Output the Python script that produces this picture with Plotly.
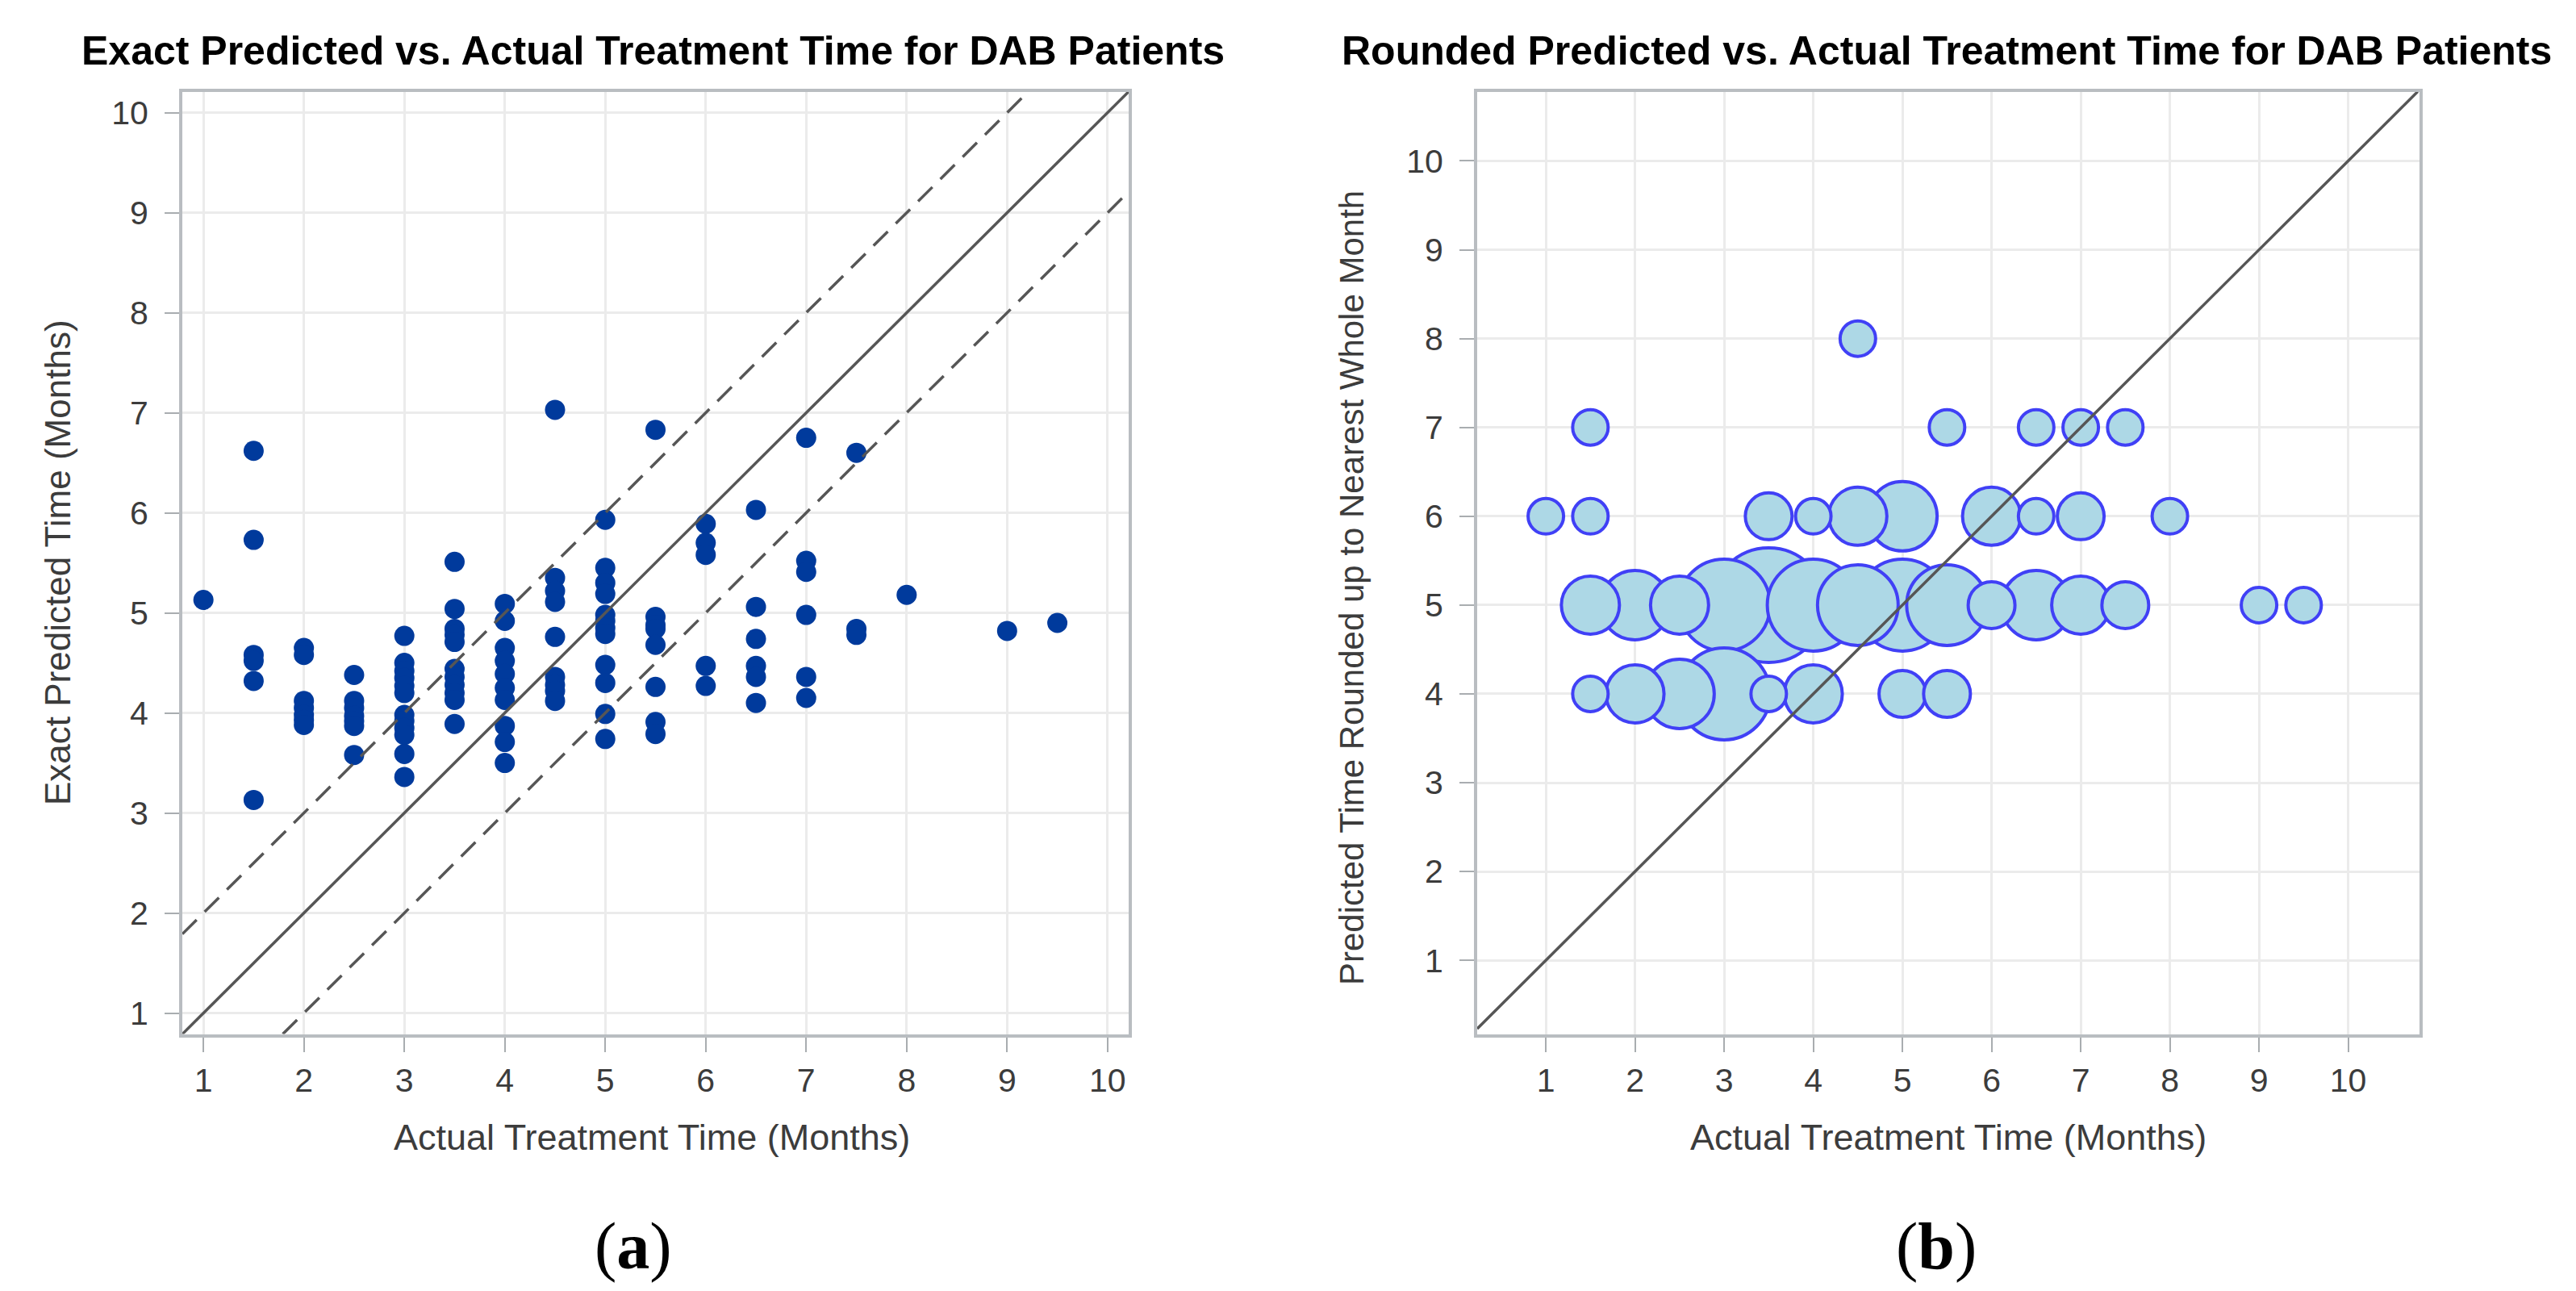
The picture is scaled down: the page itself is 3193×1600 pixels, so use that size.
import plotly.graph_objects as go

W, H = 3193, 1600

# ---------------- Panel (a): exact predicted vs actual ----------------
actual_groups = [1, 1.5, 2, 2.5, 3, 3.5, 4, 4.5, 5, 5.5, 6, 6.5, 7, 7.5, 8, 9, 9.5]
exact_predicted = [
    [5.13],
    [6.62, 5.73, 4.58, 4.52, 4.32, 3.13],
    [4.65, 4.58, 4.12, 4.05, 3.98, 3.93, 3.88],
    [4.38, 4.12, 4.05, 3.97, 3.92, 3.87, 3.58],
    [4.77, 4.50, 4.42, 4.35, 4.27, 4.20, 3.98, 3.92, 3.85, 3.78, 3.59, 3.36],
    [5.51, 5.04, 4.84, 4.78, 4.71, 4.44, 4.36, 4.28, 4.20, 4.13, 3.89],
    [5.09, 4.92, 4.65, 4.52, 4.39, 4.25, 4.13, 3.87, 3.71, 3.50],
    [7.03, 5.35, 5.22, 5.11, 4.76, 4.36, 4.28, 4.22, 4.12],
    [5.93, 5.45, 5.30, 5.19, 4.98, 4.92, 4.85, 4.79, 4.48, 4.30, 3.99, 3.74],
    [6.83, 4.96, 4.88, 4.84, 4.68, 4.26, 3.91, 3.79],
    [5.89, 5.70, 5.58, 4.47, 4.27],
    [6.03, 5.06, 4.74, 4.47, 4.36, 4.10],
    [6.75, 5.52, 5.41, 4.98, 4.36, 4.15],
    [6.60, 4.84, 4.78],
    [5.18],
    [4.82],
    [4.90],
]

# ---------------- Panel (b): rounded predicted bubbles ----------------
bubble_actual = [1, 1.5, 1.5, 1.5, 1.5, 2, 2, 2.5, 2.5, 3, 3, 3.5, 3.5, 3.5,
                 4, 4, 4, 4.5, 4.5, 4.5, 5, 5, 5, 5.5, 5.5, 5.5, 6, 6,
                 6.5, 6.5, 6.5, 7, 7, 7, 7.5, 7.5, 8, 9, 9.5]
bubble_rounded = [6, 7, 6, 5, 4, 5, 4, 5, 4, 5, 4, 6, 5, 4,
                  6, 5, 4, 8, 6, 5, 6, 5, 4, 7, 5, 4, 6, 5,
                  7, 6, 5, 7, 6, 5, 7, 5, 6, 5, 5]
bubble_count = [1, 1, 1, 3, 1, 4, 3, 3, 4, 6, 6, 2, 8, 1,
                1, 6, 3, 1, 3, 5, 4, 6, 2, 1, 5, 2, 3, 2,
                1, 1, 4, 1, 2, 3, 1, 2, 1, 1, 1]

ticks = list(range(1, 11))
tick_text = [str(t) for t in ticks]

range_a = [0.79, 10.21]
range_bx = [0.23, 10.8]
range_by = [0.17, 10.78]

FONT = "Liberation Sans, Arial, sans-serif"
TXT = "#3c3c3c"

xa, ya = [], []
for g, vals in zip(actual_groups, exact_predicted):
    for v in vals:
        xa.append(g)
        ya.append(v)

# bubble diameters: linear in count (min/max radius scaling)
order = sorted(range(len(bubble_count)), key=lambda i: -bubble_count[i])
bx = [bubble_actual[i] for i in order]
by = [bubble_rounded[i] for i in order]
bn = [bubble_count[i] for i in order]
bsize = [44 + 14 * (n - 1) for n in bn]

fig = go.Figure()

fig.add_trace(go.Scatter(
    x=xa, y=ya, mode="markers", xaxis="x", yaxis="y",
    marker=dict(size=25, color="#003a9c", line=dict(width=0)),
    showlegend=False, hoverinfo="x+y"))

LINE_C = "#565656"
lo, hi = range_a
fig.add_trace(go.Scatter(x=[lo, hi], y=[lo, hi], mode="lines", xaxis="x", yaxis="y",
                         line=dict(color=LINE_C, width=3.5), showlegend=False, hoverinfo="skip"))
fig.add_trace(go.Scatter(x=[lo, hi - 1], y=[lo + 1, hi], mode="lines", xaxis="x", yaxis="y",
                         line=dict(color=LINE_C, width=3.5, dash="25px,14px"),
                         showlegend=False, hoverinfo="skip"))
fig.add_trace(go.Scatter(x=[lo + 1, hi], y=[lo, hi - 1], mode="lines", xaxis="x", yaxis="y",
                         line=dict(color=LINE_C, width=3.5, dash="25px,14px"),
                         showlegend=False, hoverinfo="skip"))

fig.add_trace(go.Scatter(
    x=bx, y=by, mode="markers", xaxis="x2", yaxis="y2",
    marker=dict(size=bsize, sizemode="diameter", color="#add8e6",
                line=dict(width=4, color="#4040f6"), opacity=1),
    text=[f"n={n}" for n in bn], showlegend=False))

lo2 = max(range_bx[0], range_by[0])
hi2 = min(range_bx[1], range_by[1])
fig.add_trace(go.Scatter(x=[lo2, hi2], y=[lo2, hi2], mode="lines", xaxis="x2", yaxis="y2",
                         line=dict(color=LINE_C, width=3.5), showlegend=False, hoverinfo="skip"))

axis_common = dict(
    tickmode="array", tickvals=ticks, ticktext=tick_text,
    ticks="outside", ticklen=18, tickwidth=2, tickcolor="#a9adb0",
    tickfont=dict(family=FONT, size=41, color=TXT),
    showgrid=True, gridcolor="#ebebeb", gridwidth=3,
    zeroline=False, showline=True, mirror=True,
    linecolor="#b9bdc1", linewidth=4,
)

ydom = [0.204, 0.934]
fig.update_layout(
    width=W, height=H, margin=dict(l=0, r=0, t=0, b=0),
    paper_bgcolor="white", plot_bgcolor="white",
    xaxis=dict(domain=[218 / W, 1391 / W], range=range_a, anchor="y", **axis_common),
    yaxis=dict(domain=ydom, range=range_a, anchor="x", ticklabelstandoff=12, **axis_common),
    xaxis2=dict(domain=[1823 / W, 2991 / W], range=range_bx, anchor="y2", **axis_common),
    yaxis2=dict(domain=ydom, range=range_by, anchor="x2", ticklabelstandoff=12, **axis_common),
)

ann = [
    dict(text="<b>Exact Predicted vs. Actual Treatment Time for DAB Patients</b>",
         x=801 / W, y=1 - 55 / H, font=dict(family=FONT, size=50, color="#000000")),
    dict(text="<b>Rounded Predicted vs. Actual Treatment Time for DAB Patients</b>",
         x=2405 / W, y=1 - 55 / H, font=dict(family=FONT, size=50, color="#000000")),
    dict(text="Actual Treatment Time (Months)", x=800 / W, y=1 - 1401 / H,
         font=dict(family=FONT, size=45, color=TXT)),
    dict(text="Actual Treatment Time (Months)", x=2407 / W, y=1 - 1401 / H,
         font=dict(family=FONT, size=45, color=TXT)),
    dict(text="Exact Predicted Time (Months)", x=63 / W, y=1 - 689 / H, textangle=-90,
         font=dict(family=FONT, size=44, color=TXT)),
    dict(text="Predicted Time Rounded up to Nearest Whole Month", x=1668 / W, y=1 - 720 / H,
         textangle=-90, font=dict(family=FONT, size=42, color=TXT)),
    dict(text="(<b>a</b>)", x=777 / W, y=1 - 1536 / H,
         font=dict(family="Liberation Serif, Times New Roman, serif", size=82, color="#000000")),
    dict(text="(<b>b</b>)", x=2392 / W, y=1 - 1536 / H,
         font=dict(family="Liberation Serif, Times New Roman, serif", size=82, color="#000000")),
]
for a in ann:
    a.update(xref="paper", yref="paper", showarrow=False, xanchor="center", yanchor="middle")
fig.update_layout(annotations=ann)

fig.write_html("out.html")
